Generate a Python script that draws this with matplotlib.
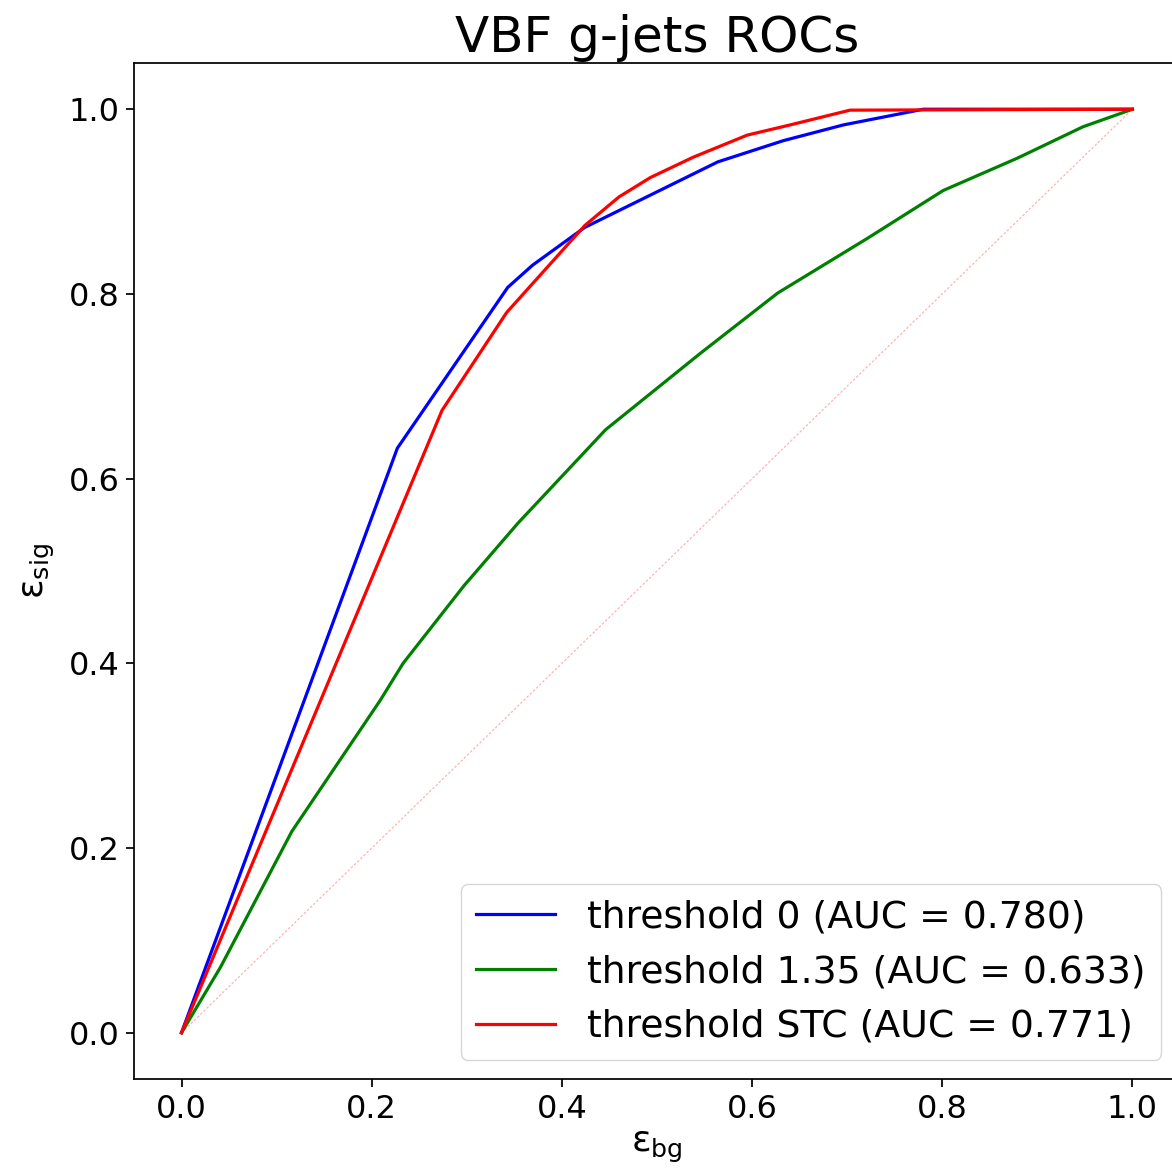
import matplotlib
matplotlib.use('Agg')
import matplotlib.pyplot as plt

# ROC points (background eff, signal eff) for each clustering threshold
fpr_t0 = [0.0, 0.227, 0.343, 0.369, 0.424, 0.564, 0.633, 0.696, 0.780, 1.0]
tpr_t0 = [0.0, 0.633, 0.807, 0.831, 0.872, 0.943, 0.966, 0.983, 1.0, 1.0]

fpr_t135 = [0.0, 0.041, 0.116, 0.209, 0.233, 0.297, 0.354, 0.446, 0.546,
            0.627, 0.721, 0.801, 0.879, 0.948, 1.0]
tpr_t135 = [0.0, 0.071, 0.218, 0.360, 0.400, 0.484, 0.552, 0.653, 0.736,
            0.801, 0.860, 0.912, 0.947, 0.981, 1.0]

fpr_stc = [0.0, 0.274, 0.342, 0.424, 0.460, 0.493, 0.538, 0.595, 0.640, 0.703, 1.0]
tpr_stc = [0.0, 0.674, 0.780, 0.874, 0.905, 0.926, 0.948, 0.972, 0.983, 0.999, 1.0]

names = ['0', '1.35', 'STC']
aucs = [0.780, 0.633, 0.771]
colors = ['blue', 'green', 'red']

fig = plt.figure(figsize=(11.72, 11.72), dpi=100)
ax = fig.add_axes([0.1143, 0.0794, 0.8925, 0.8668])

curves = [(fpr_t0, tpr_t0), (fpr_t135, tpr_t135), (fpr_stc, tpr_stc)]
for (fpr, tpr), name, auc, c in zip(curves, names, aucs, colors):
    ax.plot(fpr, tpr, color=c, lw=2.3,
            label='threshold %s (AUC = %.3f)' % (name, auc))
ax.plot([0, 1], [0, 1], 'r--', lw=0.9, alpha=0.3, dashes=(2, 1.5))

ax.set_xlim(-0.05, 1.05)
ax.set_ylim(-0.05, 1.05)
ax.set_xticks([0.0, 0.2, 0.4, 0.6, 0.8, 1.0])
ax.set_yticks([0.0, 0.2, 0.4, 0.6, 0.8, 1.0])
ax.tick_params(labelsize=23, length=5.5, width=1.25, pad=5)
for s in ax.spines.values():
    s.set_linewidth(1.25)

ax.set_xlabel(r'ε$_{\mathrm{bg}}$', fontsize=26, labelpad=4)
ax.set_ylabel(r'ε$_{\mathrm{sig}}$', fontsize=26, labelpad=8)
ax.set_title('VBF g-jets ROCs', fontsize=36, pad=8)
ax.legend(loc='lower right', fontsize=27.2, handlelength=2.1,
          handletextpad=0.85)

plt.savefig('out.png', dpi=100)
